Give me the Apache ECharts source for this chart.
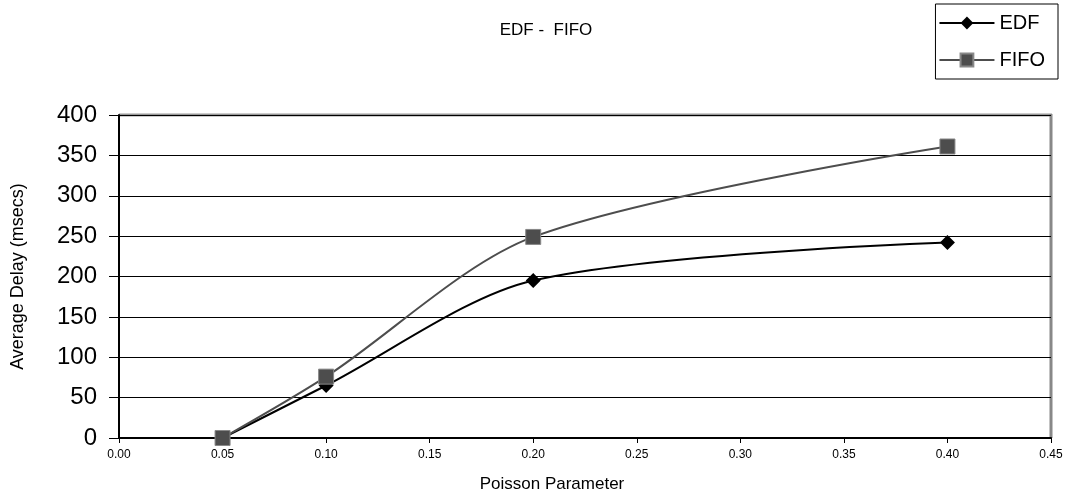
<!DOCTYPE html>
<html>
<head>
<meta charset="utf-8">
<script src="https://cdn.jsdelivr.net/npm/echarts@6/dist/echarts.min.js"></script>
<style>
  html, body { margin: 0; padding: 0; background: #fff; }
  #chart { width: 1067px; height: 499px; }
</style>
</head>
<body>
<div id="chart"></div>
<script>
// data
const xValues = [0.05, 0.10, 0.20, 0.40];
const edfDelay = [0, 65, 195, 242];
const fifoDelay = [0, 76, 249, 361];

const chart = echarts.init(document.querySelector("#chart"));

let option = {
    animation: false,
    textStyle: { fontFamily: "Liberation Sans" },
    title: {
        text: "EDF -  FIFO",
        left: 541,
        top: 17,
        textAlign: "center",
        textStyle: { fontSize: 17, fontWeight: "normal", color: "#000" }
    },
    legend: {
        right: 9,
        top: 4,
        orient: "vertical",
        itemWidth: 55,
        itemHeight: 16,
        itemGap: 17,
        padding: [9, 13, 9, 3],
        borderColor: "#000",
        borderWidth: 1,
        textStyle: { fontSize: 20, color: "#000" },
        data: ["EDF", "FIFO"]
    },
    grid: { left: 119, right: 16, top: 115, bottom: 61 },
    xAxis: {
        type: "value",
        min: 0,
        max: 0.45,
        interval: 0.05,
        name: "Poisson Parameter",
        nameLocation: "middle",
        nameGap: 38,
        nameTextStyle: { fontSize: 17, color: "#000", padding: [0, 66, 0, 0] },
        axisLine: { lineStyle: { color: "#000", width: 2 } },
        axisTick: { length: 5, lineStyle: { color: "#000" } },
        axisLabel: { fontSize: 12, color: "#000", margin: 11, formatter: v => v.toFixed(2) },
        splitLine: { show: false }
    },
    yAxis: {
        type: "value",
        min: 0,
        max: 400,
        interval: 50,
        name: "Average Delay (msecs)",
        nameLocation: "middle",
        nameGap: 92,
        nameTextStyle: { fontSize: 18, color: "#000" },
        axisLine: { show: true, lineStyle: { color: "#000", width: 2 } },
        axisTick: { show: true, inside: false, length: 10, lineStyle: { color: "#000" } },
        axisLabel: { fontSize: 24, color: "#000", margin: 22 },
        splitLine: { lineStyle: { color: "#000", width: 1 } }
    },
    series: [
        {
            name: "EDF",
            type: "line",
            smooth: 0.3,
            data: xValues.map((x, i) => [x, edfDelay[i]]),
            symbol: "diamond",
            symbolSize: 15,
            itemStyle: { color: "#000" },
            lineStyle: { color: "#000", width: 2 },
            z: 3
        },
        {
            name: "FIFO",
            type: "line",
            smooth: 0.3,
            data: xValues.map((x, i) => [x, fifoDelay[i]]),
            symbol: "rect",
            symbolSize: 15,
            itemStyle: { color: "#4d4d4d", borderColor: "#888", borderWidth: 1 },
            lineStyle: { color: "#4d4d4d", width: 2 },
            z: 4
        }
    ],
    graphic: [
        // grey border on top and right of the plot, like the source
        { type: "line", shape: { x1: 119, y1: 115, x2: 1052, y2: 115 }, style: { stroke: "#999", lineWidth: 3 } },
        { type: "line", shape: { x1: 1051, y1: 114, x2: 1051, y2: 438 }, style: { stroke: "#888", lineWidth: 3 } }
    ]
};

chart.setOption(option);
</script>
</body>
</html>
